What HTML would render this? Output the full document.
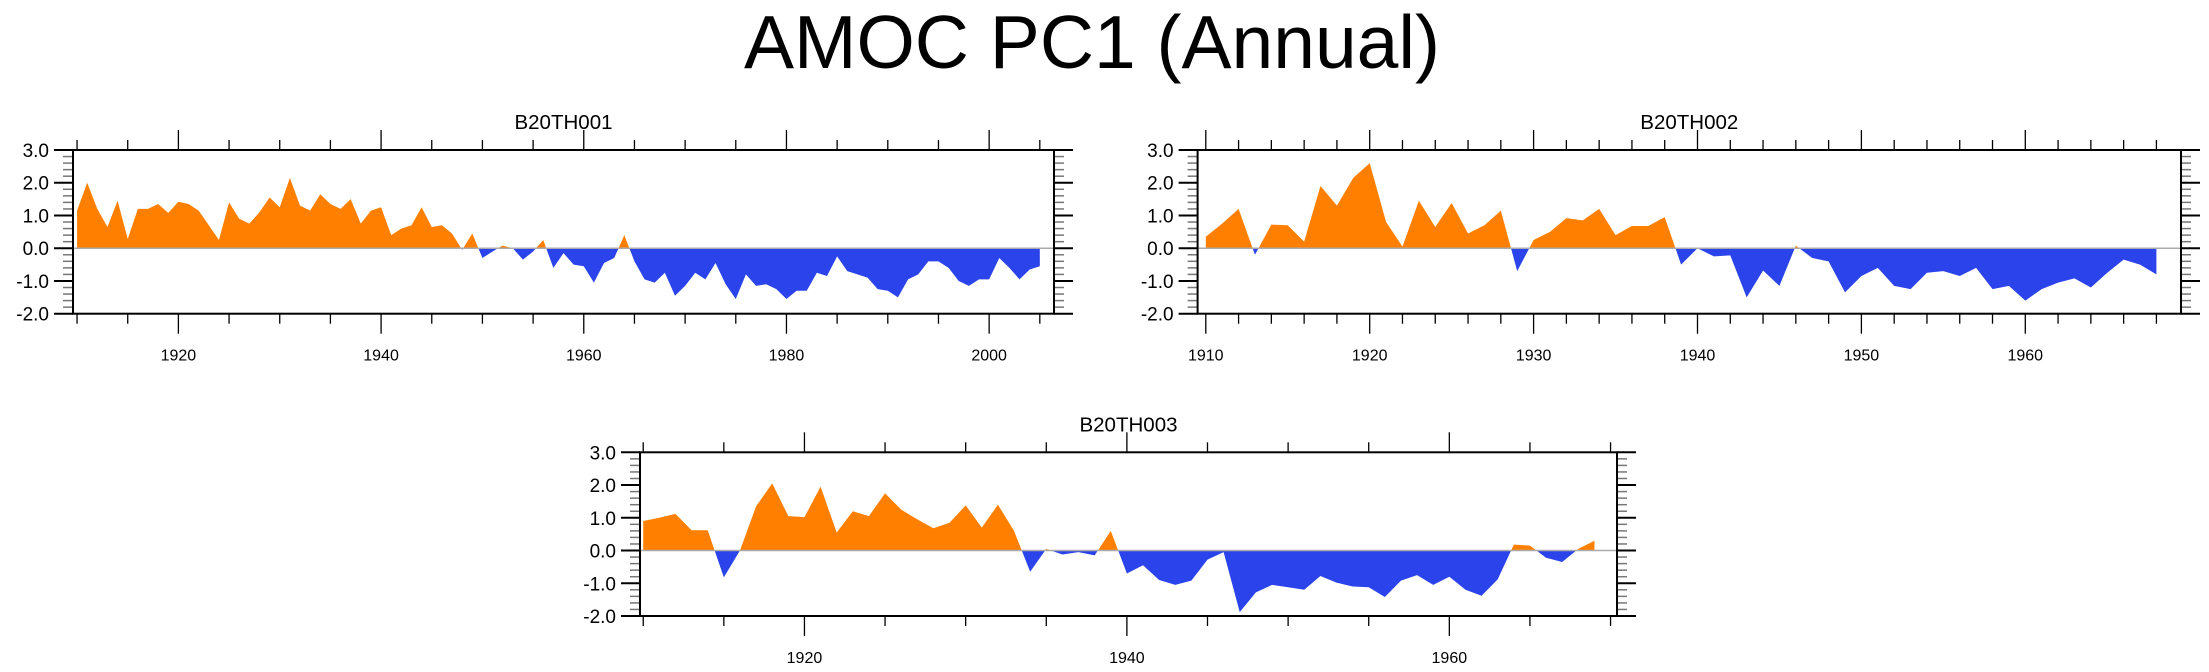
<!DOCTYPE html>
<html><head><meta charset="utf-8"><style>
html,body{margin:0;padding:0;background:#fff;}
svg{display:block;font-family:"Liberation Sans",sans-serif;}
</style></head><body>
<svg id="chart" width="2209" height="672" viewBox="0 0 2209 672" xmlns="http://www.w3.org/2000/svg">
<text x="1092" y="68" font-size="75" text-anchor="middle">AMOC PC1 (Annual)</text>
</svg>
<script>
const years1Start = 1910;
const values1 = [1.15,2.0,1.2,0.65,1.45,0.28,1.2,1.2,1.35,1.08,1.42,1.35,1.15,0.7,0.25,1.4,0.9,0.75,1.1,1.55,1.25,2.15,1.3,1.15,1.65,1.35,1.2,1.5,0.75,1.15,1.25,0.4,0.6,0.7,1.25,0.65,0.7,0.45,-0.05,0.45,-0.3,-0.1,0.08,0.0,-0.35,-0.1,0.25,-0.6,-0.15,-0.5,-0.55,-1.05,-0.45,-0.3,0.4,-0.4,-0.95,-1.05,-0.75,-1.45,-1.15,-0.75,-0.95,-0.45,-1.1,-1.55,-0.8,-1.15,-1.1,-1.25,-1.55,-1.3,-1.3,-0.75,-0.85,-0.25,-0.7,-0.8,-0.9,-1.25,-1.3,-1.5,-0.95,-0.8,-0.4,-0.4,-0.6,-1.0,-1.15,-0.95,-0.95,-0.3,-0.6,-0.95,-0.65,-0.55];
const years2Start = 1910;
const values2 = [0.35,0.75,1.2,-0.2,0.72,0.7,0.2,1.9,1.3,2.15,2.6,0.8,0.05,1.45,0.65,1.38,0.45,0.7,1.15,-0.7,0.25,0.5,0.92,0.85,1.2,0.4,0.68,0.68,0.95,-0.5,0.0,-0.25,-0.22,-1.5,-0.68,-1.15,0.08,-0.3,-0.4,-1.35,-0.85,-0.6,-1.15,-1.25,-0.75,-0.7,-0.85,-0.6,-1.25,-1.15,-1.6,-1.25,-1.05,-0.92,-1.2,-0.75,-0.35,-0.5,-0.8];
const years3Start = 1910;
const values3 = [0.9,1.0,1.12,0.62,0.62,-0.82,0.0,1.35,2.05,1.05,1.02,1.95,0.55,1.2,1.05,1.75,1.25,0.95,0.68,0.85,1.38,0.7,1.4,0.6,-0.65,0.05,-0.12,-0.05,-0.15,0.6,-0.7,-0.45,-0.9,-1.05,-0.92,-0.28,-0.05,-1.88,-1.28,-1.05,-1.12,-1.2,-0.78,-0.98,-1.1,-1.12,-1.42,-0.92,-0.75,-1.05,-0.8,-1.2,-1.38,-0.88,0.18,0.15,-0.22,-0.35,0.05,0.3];
const yTicks = [3.0,2.0,1.0,0.0,-1.0,-2.0];
const yTickLabels = ["3.0","2.0","1.0","0.0","-1.0","-2.0"];
const titles = ["B20TH001","B20TH002","B20TH003"];

const NS="http://www.w3.org/2000/svg";
const svg=document.getElementById('chart');
function el(tag,attrs,parent){const e=document.createElementNS(NS,tag);for(const k in attrs)e.setAttribute(k,attrs[k]);(parent||svg).appendChild(e);return e;}

function panel(idx,cfg,startYear,values){
  const g=el('g',{});
  
  
  const {L,R,T,B,x0,x1,major,minor}=cfg;
  const xs=v=>L+(v-x0)/(x1-x0)*(R-L);
  const ys=v=>T+(3-v)/5*(B-T);
  const t=el('text',{x:(L+R)/2,y:T-21,'font-size':20.5,'text-anchor':'middle'},g);
  t.textContent=titles[idx];
  
  
  const cid='c'+idx;
  const defs=el('defs',{},g);
  const cp=el('clipPath',{id:cid+'p'},defs);el('rect',{x:L,y:T,width:R-L,height:ys(0)-T},cp);
  const cn=el('clipPath',{id:cid+'n'},defs);el('rect',{x:L,y:ys(0),width:R-L,height:B-ys(0)},cn);
  let pts=[xs(startYear)+','+ys(0)];
  values.forEach((v,i)=>pts.push(xs(startYear+i)+','+ys(v)));
  pts.push(xs(startYear+values.length-1)+','+ys(0));
  const pp=el('polygon',{points:pts.join(' '),fill:'#ff8000','clip-path':'url(#'+cid+'p)'},g);
  
  
  const pn=el('polygon',{points:pts.join(' '),fill:'#2a43ea','clip-path':'url(#'+cid+'n)'},g);
  
  
  const zl=el('line',{x1:L,x2:R,y1:ys(0),y2:ys(0),stroke:'#aaa','stroke-width':1.5},g);
  
  
  for(let v=-2;v<=3.001;v+=0.2){
    const isMaj=Math.abs(v-Math.round(v))<1e-6;
    const len=isMaj?19:10, col=isMaj?'#000':'#777';
    el('line',{x1:L-len,x2:L,y1:ys(v),y2:ys(v),stroke:col,'stroke-width':isMaj?2:1.5},g);
    el('line',{x1:R,x2:R+len,y1:ys(v),y2:ys(v),stroke:col,'stroke-width':isMaj?2:1.5},g);
  }
  yTicks.forEach((v,i)=>{
    const lt=el('text',{x:L-24,y:ys(v)+7,'font-size':19,'text-anchor':'end'},g);
    lt.textContent=yTickLabels[i];
    
    
  });
  for(let yr=Math.ceil(x0/minor)*minor; yr<=x1; yr+=minor){
    const isMaj=yr%major===0;const len=isMaj?20:10;
    el('line',{x1:xs(yr),x2:xs(yr),y1:T-len,y2:T,stroke:'#000','stroke-width':1.3},g);
    el('line',{x1:xs(yr),x2:xs(yr),y1:B,y2:B+len,stroke:'#000','stroke-width':1.3},g);
    if(isMaj){
      const xt=el('text',{x:xs(yr),y:B+47,'font-size':16,'text-anchor':'middle'},g);
      xt.textContent=String(yr);
      
      
    }
  }
  const fr=el('rect',{x:L,y:T,width:R-L,height:B-T,fill:'none',stroke:'#000','stroke-width':2},g);
  
  
}
panel(0,{L:73,R:1054,T:150,B:313.7,x0:1909.6,x1:2006.4,major:20,minor:5},years1Start,values1);
panel(1,{L:1197.6,R:2181,T:150,B:313.7,x0:1909.5,x1:1969.5,major:10,minor:2},years2Start,values2);
panel(2,{L:640,R:1617,T:452.3,B:616,x0:1909.8,x1:1970.4,major:20,minor:5},years3Start,values3);
</script>
</body></html>
